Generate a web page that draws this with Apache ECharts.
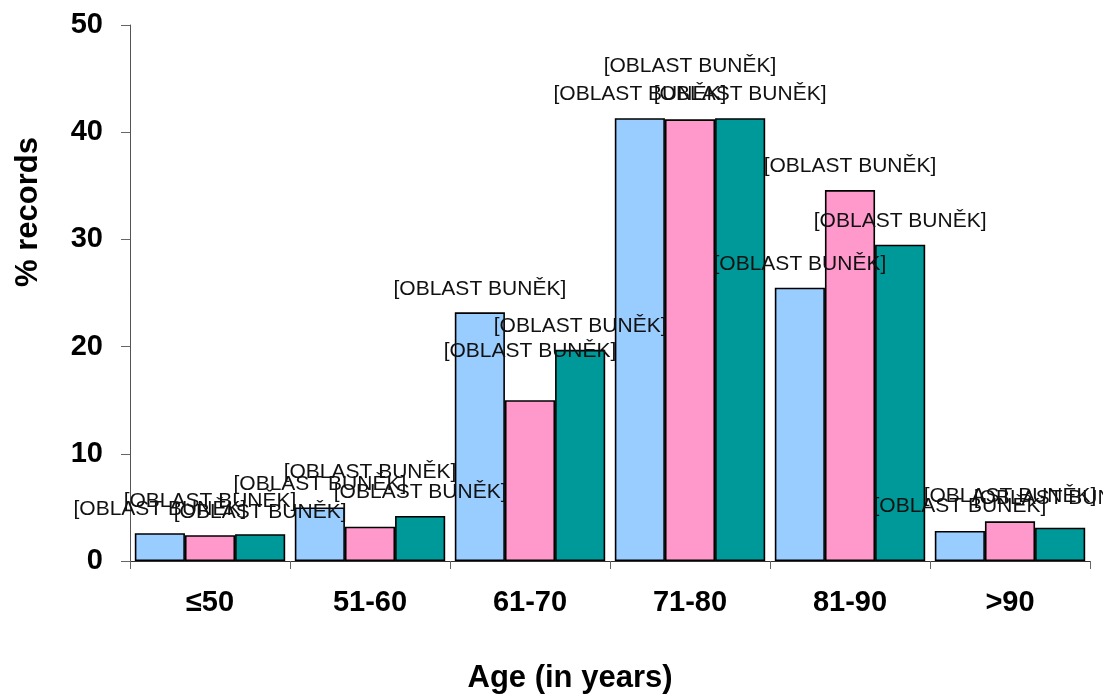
<!DOCTYPE html>
<html>
<head>
<meta charset="utf-8">
<script src="https://cdn.jsdelivr.net/npm/echarts@6/dist/echarts.min.js"></script>
<style>
html,body{margin:0;padding:0;background:#fff;}
#chart{width:1103px;height:696px;}
</style>
</head>
<body>
<div id="chart"></div>
<script>
// ---- data ----
const categories = ['≤50', '51-60', '61-70', '71-80', '81-90', '>90'];
const seriesA = [2.6, 5.0, 23.2, 41.3, 25.5, 2.8];
const seriesB = [2.4, 3.2, 15.0, 41.2, 34.6, 3.7];
const seriesC = [2.5, 4.2, 19.7, 41.3, 29.5, 3.1];
const dataLabel = '[OBLAST BUNĚK]';
const yAxisTitle = '% records';
const xAxisTitle = 'Age (in years)';
const yMin = 0, yMax = 50, yStep = 10;

// ---- layout / style (not data) ----
const colors = ['#99CCFF', '#FF99CC', '#009999'];
const labelShift = [
  [0, 0, 0, -1, 0, -1],
  [-11, -31, -25, -30, 0, -2],
  [2, 0, 0, -1, 0, -6]
];

function build(values, idx) {
  return {
    type: 'bar',
    barGap: '0%',
    barCategoryGap: '6%',
    data: values.map((v, i) => ({
      value: v,
      label: { offset: [0, labelShift[idx][i]] }
    })),
    itemStyle: { color: colors[idx], borderColor: '#000', borderWidth: 1.6 },
    label: {
      show: true,
      position: 'top',
      distance: 13,
      formatter: () => dataLabel,
      fontFamily: 'Liberation Sans, Arial, sans-serif',
      fontSize: 21,
      color: '#111'
    },
    emphasis: { disabled: true },
    animation: false
  };
}

const chart = echarts.init(document.getElementById('chart'), null, { renderer: 'canvas' });
chart.setOption({
  animation: false,
  backgroundColor: '#fff',
  grid: { left: 130, right: 13, top: 25, bottom: 135, containLabel: false },
  xAxis: {
    type: 'category',
    data: categories,
    axisLine: { show: true, lineStyle: { color: '#333', width: 1 } },
    axisTick: { show: true, alignWithLabel: false, length: 8, lineStyle: { color: '#666' } },
    axisLabel: {
      margin: 27,
      fontFamily: 'Liberation Sans, Arial, sans-serif',
      fontWeight: 'bold',
      fontSize: 29,
      color: '#000'
    }
  },
  yAxis: {
    type: 'value',
    min: yMin,
    max: yMax,
    interval: yStep,
    splitLine: { show: false },
    axisLine: { show: true, lineStyle: { color: '#555', width: 1 } },
    axisTick: { show: true, length: 9, lineStyle: { color: '#666' } },
    axisLabel: {
      margin: 27,
      fontFamily: 'Liberation Sans, Arial, sans-serif',
      fontWeight: 'bold',
      fontSize: 29,
      color: '#000'
    }
  },
  graphic: [
    {
      type: 'text',
      x: 28, y: 212,
      rotation: Math.PI / 2,
      style: {
        text: yAxisTitle,
        fontFamily: 'Liberation Sans, Arial, sans-serif',
        fontWeight: 'bold',
        fontSize: 31,
        fill: '#000',
        align: 'center',
        verticalAlign: 'middle'
      }
    },
    {
      type: 'text',
      x: 570, y: 678,
      style: {
        text: xAxisTitle,
        fontFamily: 'Liberation Sans, Arial, sans-serif',
        fontWeight: 'bold',
        fontSize: 31,
        fill: '#000',
        align: 'center',
        verticalAlign: 'middle'
      }
    }
  ],
  series: [build(seriesA, 0), build(seriesB, 1), build(seriesC, 2)]
});
</script>
</body>
</html>
